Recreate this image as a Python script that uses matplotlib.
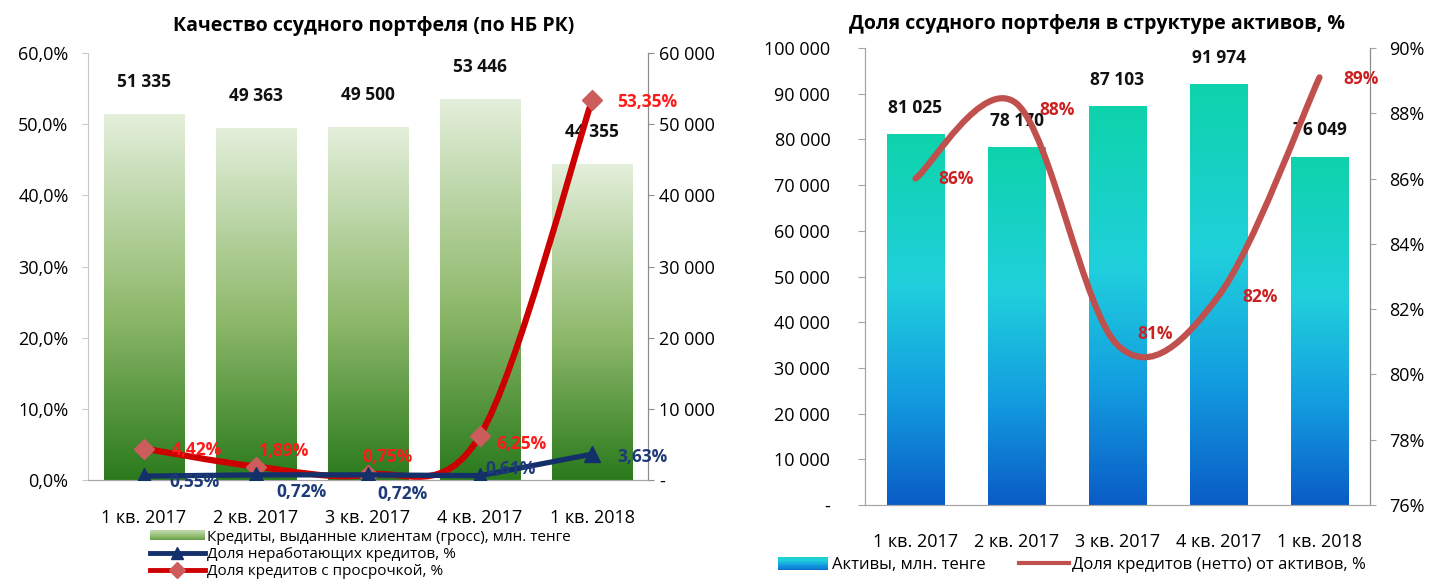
import numpy as np
import matplotlib
matplotlib.use("Agg")
import matplotlib.pyplot as plt
from matplotlib.path import Path
from matplotlib.patches import PathPatch, Rectangle
from matplotlib.colors import LinearSegmentedColormap
from matplotlib.legend_handler import HandlerBase
from matplotlib.lines import Line2D
from matplotlib.ticker import FuncFormatter, MultipleLocator

plt.rcParams['font.family'] = ['Open Sans', 'DejaVu Sans']

# ---- data ----
quarters = ['1 кв. 2017', '2 кв. 2017', '3 кв. 2017', '4 кв. 2017', '1 кв. 2018']

loans_gross = [51335, 49363, 49500, 53446, 44355]          # млн. тенге
npl_share = [0.55, 0.72, 0.72, 0.61, 3.63]                 # %
overdue_share = [4.42, 1.89, 0.75, 6.25, 53.35]            # %

assets = [81025, 78170, 87103, 91974, 76049]               # млн. тенге
loans_to_assets = [86.0, 88.3, 80.9, 82.4, 89.1]           # %
loans_to_assets_lbl = ['86%', '88%', '81%', '82%', '89%']

green_cmap = LinearSegmentedColormap.from_list(
    'gr', [(0, '#2a7a1c'), (0.45, '#8db86a'), (1, '#e4efdb')])
blue_cmap = LinearSegmentedColormap.from_list(
    'bl', [(0, '#0a5cc6'), (0.3, '#139ee0'), (0.6, '#20d0dc'), (1, '#0ed3ab')])


def num_fmt(v, pos=None):
    if abs(v) < 1e-9:
        return '-'
    return f"{int(round(v)):,}".replace(',', ' ')


def smooth_path(xs, ys):
    # excel-like smoothed line: catmull-rom -> cubic bezier
    pts = np.column_stack([xs, ys]).astype(float)
    ext = np.vstack([pts[0], pts, pts[-1]])
    verts = [tuple(pts[0])]
    codes = [Path.MOVETO]
    for i in range(1, len(ext) - 2):
        p0, p1, p2, p3 = ext[i - 1], ext[i], ext[i + 1], ext[i + 2]
        c1 = p1 + (p2 - p0) / 6.0
        c2 = p2 - (p3 - p1) / 6.0
        verts += [tuple(c1), tuple(c2), tuple(p2)]
        codes += [Path.CURVE4] * 3
    return Path(verts, codes)


def gradient_bars(ax, x, h, width, cmap):
    bars = ax.bar(x, h, width, color='none', edgecolor='none')
    grad = np.linspace(0, 1, 256).reshape(-1, 1)
    for b in bars:
        x0, bw, bh = b.get_x(), b.get_width(), b.get_height()
        ax.imshow(grad, extent=[x0, x0 + bw, 0, bh], origin='lower',
                  aspect='auto', cmap=cmap, zorder=1, interpolation='bilinear')
    return bars


class GradHandler(HandlerBase):
    def __init__(self, cmap, lo=0.0, hi=1.0):
        super().__init__()
        self.cmap, self.lo, self.hi = cmap, lo, hi

    def create_artists(self, legend, orig_handle, xdescent, ydescent,
                       width, height, fontsize, trans):
        n = 12
        arts = []
        for i in range(n):
            c = self.cmap(self.lo + (self.hi - self.lo) * i / (n - 1))
            r = Rectangle((-xdescent, -ydescent + i * height / n), width,
                          height / n + 0.3, facecolor=c, edgecolor='none',
                          transform=trans)
            arts.append(r)
        return arts


fig = plt.figure(figsize=(14.4, 5.86), dpi=100)
x = np.arange(len(quarters))

# ================= left chart =================
axb = fig.add_axes([88 / 1440, 1 - 480 / 586, 560 / 1440, 427 / 586])
axl = axb.twinx()

gradient_bars(axb, x, loans_gross, 0.72, green_cmap)
axb.set_xlim(-0.5, 4.5)
axb.set_ylim(0, 60000)
axb.yaxis.tick_right()
axb.yaxis.set_label_position('right')
axb.yaxis.set_major_locator(MultipleLocator(10000))
axb.yaxis.set_major_formatter(FuncFormatter(num_fmt))
for xi, v in zip(x, loans_gross):
    axb.annotate(num_fmt(v), (xi, v), xytext=(0, 17), textcoords='offset points',
                 ha='center', va='bottom', fontsize=12.5, fontweight='bold',
                 color='#111111')

axl.yaxis.tick_left()
axl.yaxis.set_label_position('left')
axl.set_ylim(0, 60)
axl.yaxis.set_major_locator(MultipleLocator(10))
axl.yaxis.set_major_formatter(FuncFormatter(lambda v, p: f"{v:.1f}%".replace('.', ',')))

axl.add_patch(PathPatch(smooth_path(x, overdue_share), facecolor='none',
                        edgecolor='#cc0000', lw=4.5, zorder=3, capstyle='round'))
axl.plot(x, overdue_share, ls='none', marker='D', ms=10, color='#cd5c5c',
         zorder=4)
axl.plot(x, npl_share, color='#14306b', lw=3.8, marker='^', ms=11, zorder=5)

red_off = [(38, -1), (20, 11), (14, 13), (30, -6), (40, -1)]
blue_off = [(36, -4), (33, -12), (25, -14), (22, 5), (36, -2)]
for xi, v, (dx, dy) in zip(x, overdue_share, red_off):
    axl.annotate(f"{v:.2f}%".replace('.', ','), (xi, v), xytext=(dx, dy),
                 textcoords='offset points', ha='center', va='center',
                 fontsize=12.5, fontweight='bold', color='#ff1a1a', zorder=6)
for xi, v, (dx, dy) in zip(x, npl_share, blue_off):
    axl.annotate(f"{v:.2f}%".replace('.', ','), (xi, v), xytext=(dx, dy),
                 textcoords='offset points', ha='center', va='center',
                 fontsize=12.5, fontweight='bold', color='#1f3a78', zorder=6)

for a in (axb, axl):
    a.spines['top'].set_visible(False)
axb.spines['left'].set_visible(False)
axl.spines['left'].set_color('#c8c8c8')
axl.spines['right'].set_color('#8c8c8c')
axl.spines['bottom'].set_color('#a6a6a6')
axb.spines['right'].set_color('#8c8c8c')
axb.spines['bottom'].set_color('#a6a6a6')
axb.tick_params(axis='y', length=4, color='#8c8c8c', labelsize=13, pad=4)
axl.tick_params(axis='y', length=4, color='#c8c8c8', labelsize=13, pad=10)
axb.set_xticks(x)
axb.set_xticklabels(quarters, fontsize=13)
axb.tick_params(axis='x', length=0, pad=21)
axl.set_title('Качество ссудного портфеля (по НБ РК)', fontsize=14,
              fontweight='bold', pad=16, x=0.51)

fig.legend(
    [Rectangle((0, 0), 1, 1),
     Line2D([], [], color='#14306b', lw=3.5, marker='^', ms=9),
     Line2D([], [], color='#cc0000', lw=3.5, marker='D', ms=8,
            markerfacecolor='#cd5c5c', markeredgecolor='#cd5c5c')],
    ['Кредиты, выданные клиентам (гросс), млн. тенге',
     'Доля неработающих кредитов, %',
     'Доля кредитов с просрочкой, %'],
    handler_map={Rectangle: GradHandler(green_cmap, 0.3, 0.75)},
    loc='upper left', bbox_to_anchor=(142 / 1440, 1 - 522 / 586),
    frameon=False, fontsize=11, handlelength=3.6, handleheight=0.5,
    labelspacing=0.15, handletextpad=0.15, borderpad=0)

# ================= right chart =================
ax2 = fig.add_axes([865 / 1440, 1 - 505 / 586, 505 / 1440, 457 / 586])
ax2r = ax2.twinx()

gradient_bars(ax2, x, assets, 0.57, blue_cmap)
ax2.set_xlim(-0.5, 4.5)
ax2.set_ylim(0, 100000)
ax2.yaxis.set_major_locator(MultipleLocator(10000))
ax2.yaxis.set_major_formatter(FuncFormatter(num_fmt))
for xi, v in zip(x, assets):
    ax2.annotate(num_fmt(v), (xi, v), xytext=(0, 13), textcoords='offset points',
                 ha='center', va='bottom', fontsize=12.5, fontweight='bold',
                 color='#111111', zorder=2)

ax2r.set_ylim(76, 90)
ax2r.yaxis.set_major_locator(MultipleLocator(2))
ax2r.yaxis.set_major_formatter(FuncFormatter(lambda v, p: f"{v:.0f}%"))
ax2r.add_patch(PathPatch(smooth_path(x, loans_to_assets), facecolor='none',
                         edgecolor='#c0504d', lw=4.5, zorder=3, capstyle='round'))
r_off = [(29, 0), (29, -5), (27, 8), (30, -1), (30, -1)]
for xi, v, t, (dx, dy) in zip(x, loans_to_assets, loans_to_assets_lbl, r_off):
    ax2r.annotate(t, (xi, v), xytext=(dx, dy), textcoords='offset points',
                  ha='center', va='center', fontsize=12.5, fontweight='bold',
                  color='#cc1f1f', zorder=6)

for a in (ax2, ax2r):
    a.spines['top'].set_visible(False)
    a.spines['left'].set_color('#a6a6a6')
    a.spines['right'].set_color('#8c8c8c')
    a.spines['bottom'].set_color('#a6a6a6')
ax2.tick_params(axis='y', length=5, color='#a6a6a6', labelsize=13, pad=20)
ax2r.tick_params(axis='y', length=4, color='#a6a6a6', labelsize=13, pad=10)
ax2.set_xticks(x)
ax2.set_xticklabels(quarters, fontsize=13)
ax2.tick_params(axis='x', length=0, pad=20)
ax2.set_title('Доля ссудного портфеля в структуре активов, %', fontsize=14,
              fontweight='bold', pad=14, x=0.46)

fig.legend(
    [Rectangle((0, 0), 1, 1), Line2D([], [], color='#c0504d', lw=3)],
    ['Активы, млн. тенге', 'Доля кредитов (нетто) от активов, %'],
    handler_map={Rectangle: GradHandler(blue_cmap, 0.1, 0.75)},
    loc='center left', bbox_to_anchor=(770 / 1440, 1 - 565 / 586),
    ncol=2, frameon=False, fontsize=12, handlelength=3.0, handleheight=0.8,
    handletextpad=0.2, columnspacing=2.0, borderpad=0)

fig.savefig('out.png', dpi=100)
